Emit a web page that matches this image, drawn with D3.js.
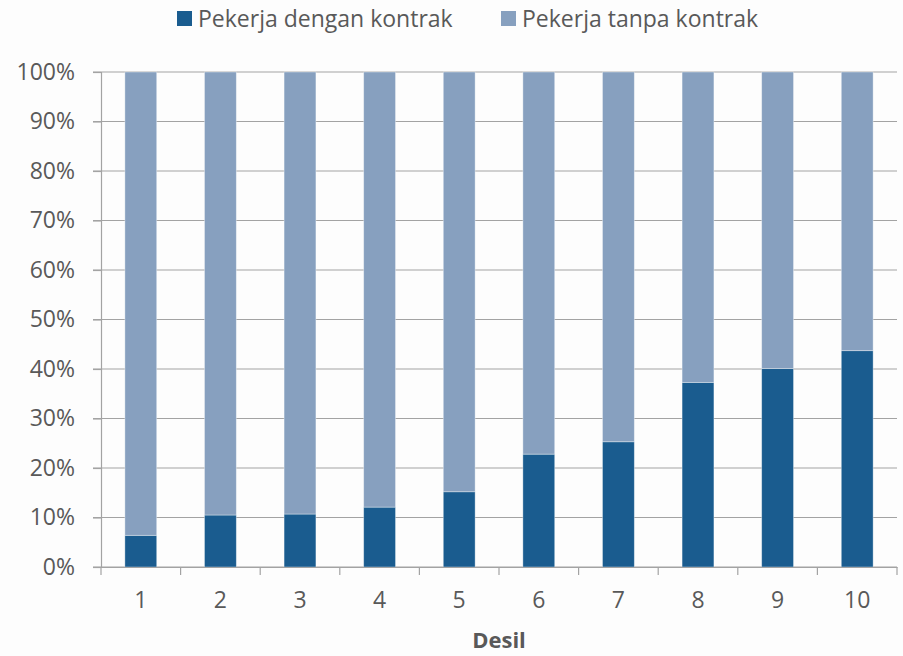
<!DOCTYPE html>
<html>
<head>
<meta charset="utf-8">
<script src="https://cdn.jsdelivr.net/npm/d3@7"></script>
<style>
  html, body { margin: 0; padding: 0; background: #fdfdfd; }
  svg { display: block; font-family: "Open Sans", sans-serif; }
</style>
</head>
<body>
<svg id="chart" width="903" height="656"></svg>
<script>
// Share of workers with and without a contract, by expenditure decile
const deciles = ["1", "2", "3", "4", "5", "6", "7", "8", "9", "10"];
const withContract = [6.4, 10.5, 10.7, 12.1, 15.2, 22.8, 25.3, 37.3, 40.1, 43.7];
const withoutContract = withContract.map(v => 100 - v);
const seriesNames = ["Pekerja dengan kontrak", "Pekerja tanpa kontrak"];
const seriesColors = ["#1a5c8f", "#87a0bf"];
const yTicks = [0, 10, 20, 30, 40, 50, 60, 70, 80, 90, 100];
const xTitle = "Desil";

const svg = d3.select("#chart");
const margin = { left: 101, right: 6, top: 72, bottom: 89 };
const W = 903, H = 656;
const textColor = "#595959";
const gridColor = "#a3a3a3";

const x = d3.scaleBand().domain(deciles).range([margin.left, W - margin.right]).padding(0);
const y = d3.scaleLinear().domain([0, 100]).range([H - margin.bottom, margin.top]);
const barW = x.bandwidth() * 0.4;

// gridlines
svg.append("g").selectAll("line").data(yTicks).join("line")
  .attr("x1", margin.left - 8).attr("x2", W - margin.right)
  .attr("y1", d => y(d)).attr("y2", d => y(d))
  .attr("stroke", gridColor).attr("stroke-width", 1.2);

// stacked bars
const rows = deciles.map((d, i) => ({ d, a: withContract[i], b: withoutContract[i] }));
const stack = d3.stack().keys(["a", "b"])(rows);
svg.append("g").selectAll("g").data(stack).join("g")
  .attr("fill", (s, i) => seriesColors[i])
  .selectAll("rect").data(s => s).join("rect")
  .attr("x", p => x(p.data.d) + (x.bandwidth() - barW) / 2)
  .attr("width", barW)
  .attr("y", p => y(p[1]))
  .attr("height", p => y(p[0]) - y(p[1]))
  .attr("stroke", "rgba(255,255,255,0.45)").attr("stroke-width", 0.8);

// y axis
const yAxis = svg.append("g").attr("transform", `translate(${margin.left},0)`)
  .call(d3.axisLeft(y).tickValues(yTicks).tickFormat(d => d + "%").tickSize(8).tickPadding(18));
yAxis.select(".domain").attr("stroke", gridColor).attr("stroke-width", 1.2);
yAxis.selectAll(".tick line").attr("stroke", gridColor).attr("stroke-width", 1.2);
yAxis.selectAll("text").attr("fill", textColor).attr("font-size", 23)
  .attr("font-family", "'Open Sans', sans-serif");

// x axis with ticks at category boundaries
const xAxis = svg.append("g").attr("transform", `translate(0,${H - margin.bottom})`)
  .call(d3.axisBottom(x).tickSize(0).tickPadding(25));
xAxis.select(".domain").attr("stroke", gridColor).attr("stroke-width", 1.2);
xAxis.selectAll("text").attr("fill", textColor).attr("font-size", 23)
  .attr("font-family", "'Open Sans', sans-serif");
const bounds = deciles.map(d => x(d)).concat([x(deciles[deciles.length - 1]) + x.bandwidth()]);
xAxis.append("g").selectAll("line").data(bounds).join("line")
  .attr("x1", d => d).attr("x2", d => d).attr("y1", 0).attr("y2", 8)
  .attr("stroke", gridColor).attr("stroke-width", 1.2);

// x axis title
svg.append("text").attr("x", (margin.left + W - margin.right) / 2).attr("y", 648)
  .attr("text-anchor", "middle").attr("font-weight", "bold").attr("font-size", 22)
  .attr("fill", textColor).text(xTitle);

// legend
const legendX = [177, 501];
const lg = svg.append("g").selectAll("g").data(seriesNames).join("g")
  .attr("transform", (d, i) => `translate(${legendX[i]},11)`);
lg.append("rect").attr("width", 15).attr("height", 15).attr("fill", (d, i) => seriesColors[i]);
lg.append("text").attr("x", 21).attr("y", 15.5).attr("font-size", 23)
  .attr("fill", textColor).text(d => d);
</script>
</body>
</html>
